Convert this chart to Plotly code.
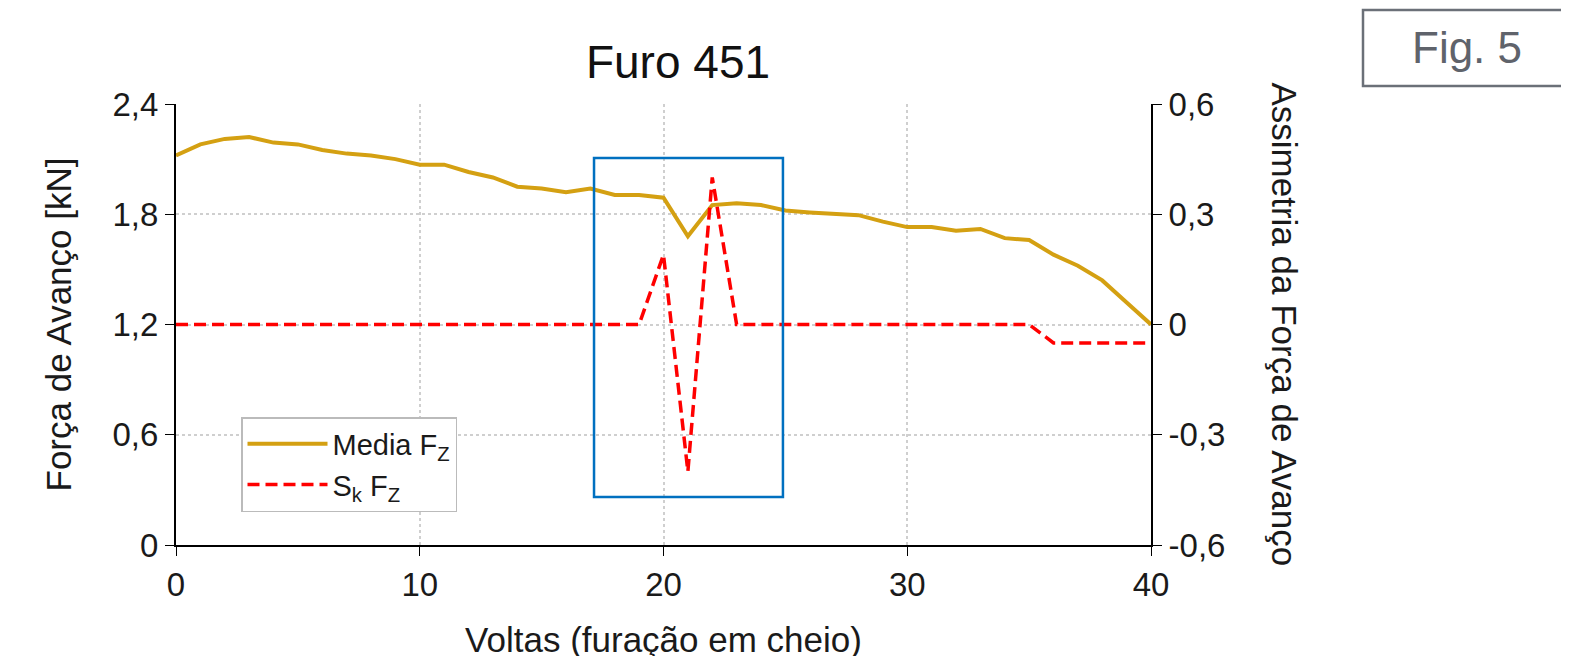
import plotly.graph_objects as go

voltas = list(range(41))
media_fz = [2.12, 2.18, 2.21, 2.22, 2.19, 2.18, 2.15, 2.13, 2.12, 2.10, 2.07,
            2.07, 2.03, 2.00, 1.95, 1.94, 1.92, 1.94, 1.905, 1.905, 1.89,
            1.68, 1.85, 1.86, 1.85, 1.82, 1.81, 1.80, 1.795, 1.76, 1.73,
            1.73, 1.71, 1.72, 1.67, 1.66, 1.58, 1.52, 1.44, 1.32, 1.20]
sk_fz = [0]*20 + [0.19, -0.40, 0.40] + [0]*13 + [-0.05]*5

y_ticks = [0, 0.6, 1.2, 1.8, 2.4]
y_ticklabels = ["0", "0,6", "1,2", "1,8", "2,4"]
y2_ticks = [-0.6, -0.3, 0, 0.3, 0.6]
y2_ticklabels = ["-0,6", "-0,3", "0", "0,3", "0,6"]
x_ticks = [0, 10, 20, 30, 40]

font = "Liberation Sans, Arial, sans-serif"
TXT = "#1a1a1a"

# page body has an 8px margin: plot area ends up at x 176..1151, y 104..545
fig = go.Figure()
fig.add_trace(go.Scatter(x=voltas, y=media_fz, mode="lines", name="Media F<sub>Z</sub>",
                         line=dict(color="#D4A012", width=4), yaxis="y"))
fig.add_trace(go.Scatter(x=voltas, y=sk_fz, mode="lines", name="S<sub>k</sub> F<sub>Z</sub>",
                         line=dict(color="#FF0000", width=3.5, dash="12px,6px"), yaxis="y2"))

fig.update_layout(
    width=1569, height=656,
    margin=dict(l=168, r=426, t=96, b=119),
    paper_bgcolor="white", plot_bgcolor="white",
    font=dict(family=font, size=33, color=TXT),
    title=dict(text="Furo 451", x=(678 - 8) / 1569, xanchor="center",
               y=1 - 54 / 656, yanchor="middle", font=dict(size=46, color="#111111")),
    xaxis=dict(range=[0, 40], tickvals=x_ticks, showgrid=True, gridcolor="#cfcfcf",
               griddash="dot", gridwidth=1.5, zeroline=False, showline=True,
               linecolor="black", linewidth=2, ticks="outside", ticklen=9,
               tickcolor="black", tickfont=dict(size=33),
               title=dict(text="Voltas (furação em cheio)", font=dict(size=35), standoff=26)),
    yaxis=dict(range=[0, 2.4], tickvals=y_ticks, ticktext=y_ticklabels, showgrid=True,
               gridcolor="#cfcfcf", griddash="dot", gridwidth=1.5, zeroline=False,
               showline=True, linecolor="black", linewidth=2, ticks="outside",
               ticklen=9, tickcolor="black", tickfont=dict(size=33),
               title=dict(text="Força de Avanço [kN]", font=dict(size=35), standoff=30)),
    yaxis2=dict(range=[-0.6, 0.6], tickvals=y2_ticks, ticktext=y2_ticklabels,
                overlaying="y", side="right", showgrid=False, zeroline=False,
                showline=True, linecolor="black", linewidth=2, ticks="outside",
                ticklen=9, tickcolor="black", tickfont=dict(size=33)),
    legend=dict(x=(241 - 176) / 975, y=(545 - 417) / 441, xanchor="left", yanchor="top",
                bgcolor="white", bordercolor="#bbbbbb", borderwidth=1.5,
                font=dict(size=29, color=TXT), itemwidth=80),
    showlegend=True,
)

# right axis title (reads top to bottom)
fig.add_annotation(text="Assimetria da Força de Avanço", xref="paper", yref="paper",
                   x=1 + (1284 - 1151) / 975, y=0.5, textangle=90, showarrow=False,
                   font=dict(size=35, color=TXT), xanchor="center", yanchor="middle")

# highlight box
fig.add_shape(type="rect", xref="x", yref="y", x0=17.15, x1=24.9, y0=0.261, y1=2.106,
              line=dict(color="#0070C0", width=2.5), fillcolor="rgba(0,0,0,0)")

# Fig. 5 label box
fig.add_shape(type="rect", xref="paper", yref="paper",
              x0=(1363 - 176) / 975, x1=(1585 - 176) / 975,
              y0=(545 - 86) / 441, y1=(545 - 10) / 441,
              line=dict(color="#6b7078", width=2.5), fillcolor="white")
fig.add_annotation(text="Fig. 5", xref="paper", yref="paper",
                   x=(1467 - 176) / 975, y=(545 - 47) / 441, showarrow=False,
                   font=dict(size=44, color="#5f636b"), xanchor="center", yanchor="middle")

fig.write_html("out.html")
